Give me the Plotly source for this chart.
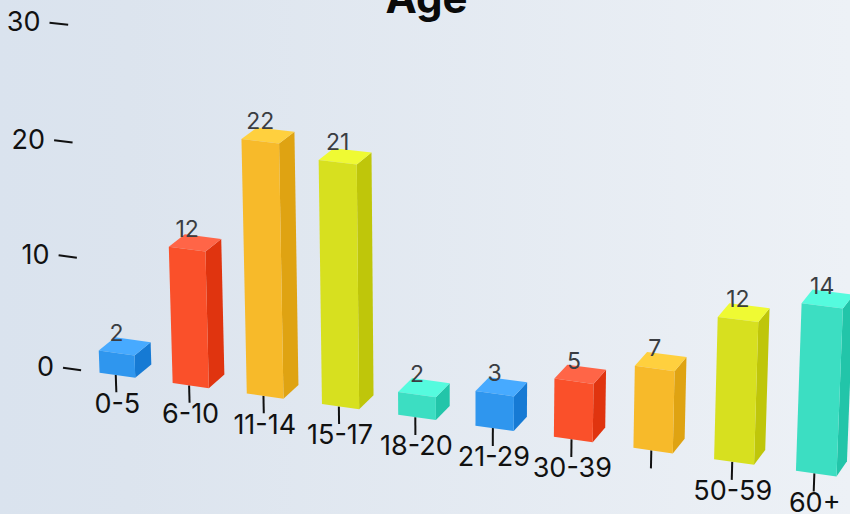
import numpy as np
import plotly.graph_objects as go

categories = ["0-5", "6-10", "11-14", "15-17", "18-20", "21-29", "30-39", "40-49", "50-59", "60+"]
values = [2, 12, 22, 21, 2, 3, 5, 7, 12, 14]
shown_labels = ["0-5", "6-10", "11-14", "15-17", "18-20", "21-29", "30-39", "", "50-59", "60+"]
y_ticks = [0, 10, 20, 30]
front_colors = ["#2F96EE", "#FA502A", "#F7BA2A", "#D7E01F", "#3CDEC2"]
top_colors = ["#47AAFF", "#FF6547", "#FFD03E", "#EFFA33", "#55FBDE"]
side_colors = ["#167AD4", "#E0340F", "#DFA312", "#BFC60A", "#22C5A9"]

# Perspective camera: (category, value, depth) -> page position
CAMERA = np.array([
    [7.20553404e+01, -5.06937007e-01, 1.73962218e+01, 1.17366552e+02],
    [7.67648660e+00, -1.15779835e+01, -1.00773971e+01, 3.75292612e+02],
    [-6.84955268e-03, -1.10614543e-03, 8.96166714e-03, 1.00000000e+00],
])
HALF_WIDTH = 0.245
TICK_SHIFT = -0.022
FONT = "Inter"


def proj(u, v, d=0.0):
    r = CAMERA @ np.array([u, v, d, 1.0])
    return r[0] / r[2], r[1] / r[2]


def polygon(points, color):
    xy = [proj(*p) for p in points]
    xy.append(xy[0])
    return go.Scatter(x=[q[0] for q in xy], y=[q[1] for q in xy], mode="lines",
                      line=dict(width=0), fill="toself", fillcolor=color, hoverinfo="skip")


def segment(a, b):
    return go.Scatter(x=[a[0], b[0]], y=[a[1], b[1]], mode="lines",
                      line=dict(color="#111111", width=2), hoverinfo="skip")


def label(x, y, text, size, color, position, weight=400):
    return go.Scatter(x=[x], y=[y], mode="text", text=[text], textposition=position,
                      textfont=dict(family=FONT, size=size, color=color, weight=weight),
                      hoverinfo="skip", cliponaxis=False)


fig = go.Figure()

# background
fig.add_trace(go.Scatter(x=[0, 850, 850, 0, 0], y=[0, 0, 514, 514, 0], mode="lines", line=dict(width=0),
                         fill="toself", hoverinfo="skip",
                         fillgradient=dict(type="horizontal",
                                           colorscale=[[0, "#DAE3EE"], [0.15, "#DCE4EE"], [1, "#EDF1F6"]])))

# y axis
for t in y_ticks:
    a = proj(-0.75, t)
    fig.add_trace(segment(a, proj(-0.5, t)))
    fig.add_trace(label(a[0] - 9, a[1] + 1.5, str(t), 27, "#111111", "middle left"))

# x ticks
for i, name in enumerate(shown_labels):
    a = proj(i + TICK_SHIFT, 0)
    b = proj(i + TICK_SHIFT, -1.55)
    fig.add_trace(segment(a, b))
    if name:
        fig.add_trace(label(b[0] + 1, b[1] + 13.5, name, 27, "#111111", "middle center"))

# bars
for i, v in enumerate(values):
    c = i % 5
    l, r = i - HALF_WIDTH, i + HALF_WIDTH
    fig.add_trace(polygon([(r, 0, 0), (r, 0, 1), (r, v, 1), (r, v, 0)], side_colors[c]))
    fig.add_trace(polygon([(l, v, 0), (r, v, 0), (r, v, 1), (l, v, 1)], top_colors[c]))
    fig.add_trace(polygon([(l, 0, 0), (r, 0, 0), (r, v, 0), (l, v, 0)], front_colors[c]))

# data labels
for i, v in enumerate(values):
    x, y = proj(i, v)
    fig.add_trace(label(x, y - 18, str(v), 23, "#3A3D42", "middle center"))

# title, cut by the top of the page
fig.add_trace(label(426.5, 2.5, "Age", 42, "#0A0A0A", "middle center", 700))

fig.update_layout(width=850, height=514, margin=dict(l=0, r=0, t=0, b=0), showlegend=False,
                  paper_bgcolor="#E4EAF2", plot_bgcolor="rgba(0,0,0,0)",
                  xaxis=dict(range=[0, 850], visible=False, fixedrange=True),
                  yaxis=dict(range=[514, 0], visible=False, fixedrange=True))
fig.write_html("out.html", post_script="document.body.style.margin='0';document.body.style.overflow='hidden';",
               config=dict(displayModeBar=False))
